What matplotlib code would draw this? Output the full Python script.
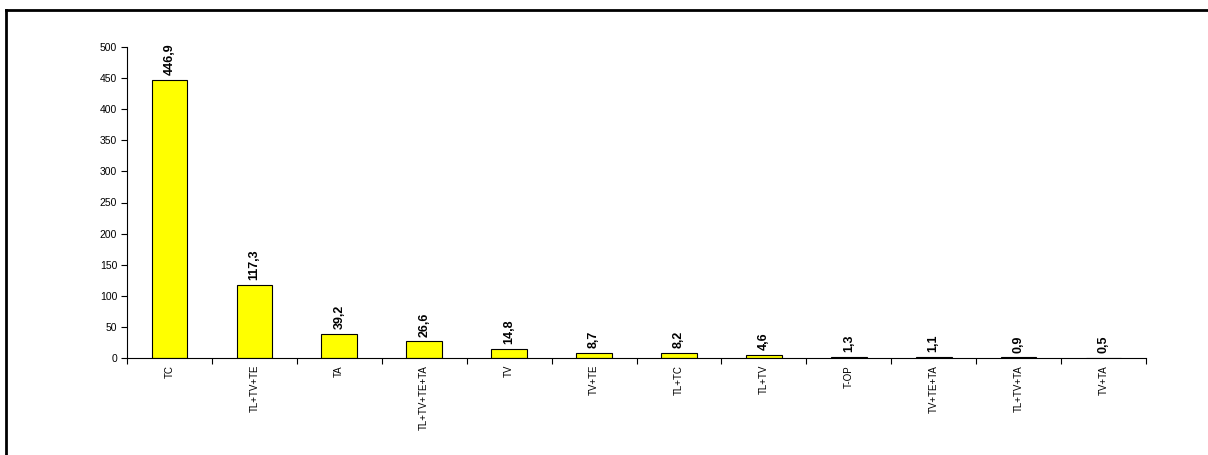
import matplotlib
matplotlib.use("Agg")
import matplotlib.pyplot as plt
from matplotlib.lines import Line2D

categories = ["TC", "TL+TV+TE", "TA", "TL+TV+TE+TA", "TV", "TV+TE", "TL+TC",
              "TL+TV", "T-OP", "TV+TE+TA", "TL+TV+TA", "TV+TA"]
values = [446.9, 117.3, 39.2, 26.6, 14.8, 8.7, 8.2, 4.6, 1.3, 1.1, 0.9, 0.5]
value_labels = ["446,9", "117,3", "39,2", "26,6", "14,8", "8,7", "8,2", "4,6",
                "1,3", "1,1", "0,9", "0,5"]
yticks = [0, 50, 100, 150, 200, 250, 300, 350, 400, 450, 500]

plt.rcParams['font.family'] = ['Liberation Sans', 'DejaVu Sans']

W, H = 1208, 455
fig = plt.figure(figsize=(W / 100, H / 100), dpi=100)
ax = fig.add_axes([127 / W, 1 - 358 / H, (1146 - 127) / W, (358 - 47) / H])

x = list(range(len(categories)))
ax.bar(x, values, width=0.42, color="#FFFF00", edgecolor="black", linewidth=0.8)

for xi, v, lab in zip(x, values, value_labels):
    ax.annotate(lab, (xi, v), xytext=(0, 3.5), textcoords="offset points",
                rotation=90, ha="center", va="bottom", fontsize=9,
                fontweight="bold")

ax.set_xlim(-0.5, len(categories) - 0.5)
ax.set_ylim(0, 500)
ax.set_yticks(yticks)
ax.tick_params(axis="y", labelsize=7.5, length=4, width=0.8, direction="out", pad=3)
ax.set_xticks(x)
ax.set_xticklabels(categories, rotation=90, fontsize=7)
ax.tick_params(axis="x", length=0, pad=5)
ax.set_xticks([i - 0.5 for i in range(len(categories) + 1)], minor=True)
ax.tick_params(axis="x", which="minor", length=4, width=0.8, direction="out")

for s in ["top", "right"]:
    ax.spines[s].set_visible(False)
ax.spines["left"].set_linewidth(0.8)
ax.spines["bottom"].set_linewidth(0.8)

# outer frame lines (top and left)
fig.add_artist(Line2D([5.5 / W, 1.0], [1 - 9.5 / H, 1 - 9.5 / H],
                      transform=fig.transFigure, color="black", linewidth=2))
fig.add_artist(Line2D([5.5 / W, 5.5 / W], [0.0, 1 - 9.5 / H],
                      transform=fig.transFigure, color="black", linewidth=2))

fig.savefig("out.png", dpi=100)
